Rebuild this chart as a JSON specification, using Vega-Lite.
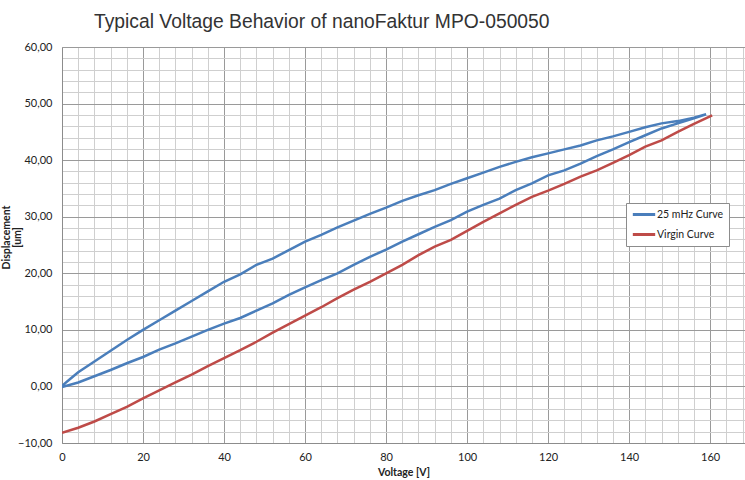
{
  "$schema": "https://vega.github.io/schema/vega-lite/v6.json",
  "width": 683,
  "height": 396,
  "autosize": {"type": "none"},
  "padding": {"left": 62, "top": 47, "right": 0, "bottom": 37},
  "background": "white",
  "config": {"view": {"stroke": null}},
  "title": {
    "text": "Typical Voltage Behavior of nanoFaktur MPO-050050",
    "anchor": "start",
    "frame": "group",
    "baseline": "alphabetic",
    "offset": 20,
    "dx": 32,
    "dy": 26,
    "font": "Liberation Sans",
    "fontSize": 19.3,
    "fontWeight": "normal",
    "color": "#333333"
  },
  "data": {
    "values": [
      {"series": "25 mHz Curve", "order": 0, "voltage": 0, "displacement": -0.1},
      {"series": "25 mHz Curve", "order": 1, "voltage": 4, "displacement": 0.7},
      {"series": "25 mHz Curve", "order": 2, "voltage": 8, "displacement": 1.8},
      {"series": "25 mHz Curve", "order": 3, "voltage": 12, "displacement": 2.9},
      {"series": "25 mHz Curve", "order": 4, "voltage": 16, "displacement": 4.1},
      {"series": "25 mHz Curve", "order": 5, "voltage": 20, "displacement": 5.2},
      {"series": "25 mHz Curve", "order": 6, "voltage": 24, "displacement": 6.5},
      {"series": "25 mHz Curve", "order": 7, "voltage": 28, "displacement": 7.6},
      {"series": "25 mHz Curve", "order": 8, "voltage": 32, "displacement": 8.8},
      {"series": "25 mHz Curve", "order": 9, "voltage": 36, "displacement": 10.0},
      {"series": "25 mHz Curve", "order": 10, "voltage": 40, "displacement": 11.1},
      {"series": "25 mHz Curve", "order": 11, "voltage": 44, "displacement": 12.1},
      {"series": "25 mHz Curve", "order": 12, "voltage": 48, "displacement": 13.4},
      {"series": "25 mHz Curve", "order": 13, "voltage": 52, "displacement": 14.7},
      {"series": "25 mHz Curve", "order": 14, "voltage": 56, "displacement": 16.2},
      {"series": "25 mHz Curve", "order": 15, "voltage": 60, "displacement": 17.5},
      {"series": "25 mHz Curve", "order": 16, "voltage": 64, "displacement": 18.8},
      {"series": "25 mHz Curve", "order": 17, "voltage": 68, "displacement": 20.0},
      {"series": "25 mHz Curve", "order": 18, "voltage": 72, "displacement": 21.5},
      {"series": "25 mHz Curve", "order": 19, "voltage": 76, "displacement": 22.9},
      {"series": "25 mHz Curve", "order": 20, "voltage": 80, "displacement": 24.2},
      {"series": "25 mHz Curve", "order": 21, "voltage": 84, "displacement": 25.6},
      {"series": "25 mHz Curve", "order": 22, "voltage": 88, "displacement": 26.9},
      {"series": "25 mHz Curve", "order": 23, "voltage": 92, "displacement": 28.2},
      {"series": "25 mHz Curve", "order": 24, "voltage": 96, "displacement": 29.4},
      {"series": "25 mHz Curve", "order": 25, "voltage": 100, "displacement": 30.9},
      {"series": "25 mHz Curve", "order": 26, "voltage": 104, "displacement": 32.1},
      {"series": "25 mHz Curve", "order": 27, "voltage": 108, "displacement": 33.2},
      {"series": "25 mHz Curve", "order": 28, "voltage": 112, "displacement": 34.7},
      {"series": "25 mHz Curve", "order": 29, "voltage": 116, "displacement": 35.9},
      {"series": "25 mHz Curve", "order": 30, "voltage": 120, "displacement": 37.3},
      {"series": "25 mHz Curve", "order": 31, "voltage": 124, "displacement": 38.2},
      {"series": "25 mHz Curve", "order": 32, "voltage": 128, "displacement": 39.4},
      {"series": "25 mHz Curve", "order": 33, "voltage": 132, "displacement": 40.7},
      {"series": "25 mHz Curve", "order": 34, "voltage": 136, "displacement": 41.9},
      {"series": "25 mHz Curve", "order": 35, "voltage": 140, "displacement": 43.2},
      {"series": "25 mHz Curve", "order": 36, "voltage": 144, "displacement": 44.4},
      {"series": "25 mHz Curve", "order": 37, "voltage": 148, "displacement": 45.6},
      {"series": "25 mHz Curve", "order": 38, "voltage": 152, "displacement": 46.5},
      {"series": "25 mHz Curve", "order": 39, "voltage": 156, "displacement": 47.4},
      {"series": "25 mHz Curve", "order": 40, "voltage": 159, "displacement": 48.1},
      {"series": "25 mHz Curve", "order": 41, "voltage": 156, "displacement": 47.5},
      {"series": "25 mHz Curve", "order": 42, "voltage": 152, "displacement": 46.9},
      {"series": "25 mHz Curve", "order": 43, "voltage": 148, "displacement": 46.5},
      {"series": "25 mHz Curve", "order": 44, "voltage": 144, "displacement": 45.8},
      {"series": "25 mHz Curve", "order": 45, "voltage": 140, "displacement": 45.0},
      {"series": "25 mHz Curve", "order": 46, "voltage": 136, "displacement": 44.2},
      {"series": "25 mHz Curve", "order": 47, "voltage": 132, "displacement": 43.5},
      {"series": "25 mHz Curve", "order": 48, "voltage": 128, "displacement": 42.6},
      {"series": "25 mHz Curve", "order": 49, "voltage": 124, "displacement": 41.9},
      {"series": "25 mHz Curve", "order": 50, "voltage": 120, "displacement": 41.2},
      {"series": "25 mHz Curve", "order": 51, "voltage": 116, "displacement": 40.5},
      {"series": "25 mHz Curve", "order": 52, "voltage": 112, "displacement": 39.7},
      {"series": "25 mHz Curve", "order": 53, "voltage": 108, "displacement": 38.8},
      {"series": "25 mHz Curve", "order": 54, "voltage": 104, "displacement": 37.8},
      {"series": "25 mHz Curve", "order": 55, "voltage": 100, "displacement": 36.8},
      {"series": "25 mHz Curve", "order": 56, "voltage": 96, "displacement": 35.8},
      {"series": "25 mHz Curve", "order": 57, "voltage": 92, "displacement": 34.7},
      {"series": "25 mHz Curve", "order": 58, "voltage": 88, "displacement": 33.8},
      {"series": "25 mHz Curve", "order": 59, "voltage": 84, "displacement": 32.8},
      {"series": "25 mHz Curve", "order": 60, "voltage": 80, "displacement": 31.6},
      {"series": "25 mHz Curve", "order": 61, "voltage": 76, "displacement": 30.5},
      {"series": "25 mHz Curve", "order": 62, "voltage": 72, "displacement": 29.3},
      {"series": "25 mHz Curve", "order": 63, "voltage": 68, "displacement": 28.1},
      {"series": "25 mHz Curve", "order": 64, "voltage": 64, "displacement": 26.8},
      {"series": "25 mHz Curve", "order": 65, "voltage": 60, "displacement": 25.6},
      {"series": "25 mHz Curve", "order": 66, "voltage": 56, "displacement": 24.1},
      {"series": "25 mHz Curve", "order": 67, "voltage": 52, "displacement": 22.6},
      {"series": "25 mHz Curve", "order": 68, "voltage": 48, "displacement": 21.5},
      {"series": "25 mHz Curve", "order": 69, "voltage": 44, "displacement": 19.8},
      {"series": "25 mHz Curve", "order": 70, "voltage": 40, "displacement": 18.5},
      {"series": "25 mHz Curve", "order": 71, "voltage": 36, "displacement": 16.8},
      {"series": "25 mHz Curve", "order": 72, "voltage": 32, "displacement": 15.1},
      {"series": "25 mHz Curve", "order": 73, "voltage": 28, "displacement": 13.4},
      {"series": "25 mHz Curve", "order": 74, "voltage": 24, "displacement": 11.7},
      {"series": "25 mHz Curve", "order": 75, "voltage": 20, "displacement": 10.0},
      {"series": "25 mHz Curve", "order": 76, "voltage": 16, "displacement": 8.2},
      {"series": "25 mHz Curve", "order": 77, "voltage": 12, "displacement": 6.3},
      {"series": "25 mHz Curve", "order": 78, "voltage": 8, "displacement": 4.4},
      {"series": "25 mHz Curve", "order": 79, "voltage": 4, "displacement": 2.5},
      {"series": "25 mHz Curve", "order": 80, "voltage": 2, "displacement": 1.3},
      {"series": "25 mHz Curve", "order": 81, "voltage": 0, "displacement": 0.1},
      {"series": "Virgin Curve", "order": 0, "voltage": 0, "displacement": -8.2},
      {"series": "Virgin Curve", "order": 1, "voltage": 4, "displacement": -7.3},
      {"series": "Virgin Curve", "order": 2, "voltage": 8, "displacement": -6.2},
      {"series": "Virgin Curve", "order": 3, "voltage": 12, "displacement": -4.9},
      {"series": "Virgin Curve", "order": 4, "voltage": 16, "displacement": -3.6},
      {"series": "Virgin Curve", "order": 5, "voltage": 20, "displacement": -2.1},
      {"series": "Virgin Curve", "order": 6, "voltage": 24, "displacement": -0.7},
      {"series": "Virgin Curve", "order": 7, "voltage": 28, "displacement": 0.7},
      {"series": "Virgin Curve", "order": 8, "voltage": 32, "displacement": 2.1},
      {"series": "Virgin Curve", "order": 9, "voltage": 36, "displacement": 3.6},
      {"series": "Virgin Curve", "order": 10, "voltage": 40, "displacement": 5.0},
      {"series": "Virgin Curve", "order": 11, "voltage": 44, "displacement": 6.4},
      {"series": "Virgin Curve", "order": 12, "voltage": 48, "displacement": 7.9},
      {"series": "Virgin Curve", "order": 13, "voltage": 52, "displacement": 9.5},
      {"series": "Virgin Curve", "order": 14, "voltage": 56, "displacement": 11.0},
      {"series": "Virgin Curve", "order": 15, "voltage": 60, "displacement": 12.5},
      {"series": "Virgin Curve", "order": 16, "voltage": 64, "displacement": 14.0},
      {"series": "Virgin Curve", "order": 17, "voltage": 68, "displacement": 15.6},
      {"series": "Virgin Curve", "order": 18, "voltage": 72, "displacement": 17.1},
      {"series": "Virgin Curve", "order": 19, "voltage": 76, "displacement": 18.5},
      {"series": "Virgin Curve", "order": 20, "voltage": 80, "displacement": 20.0},
      {"series": "Virgin Curve", "order": 21, "voltage": 84, "displacement": 21.5},
      {"series": "Virgin Curve", "order": 22, "voltage": 88, "displacement": 23.2},
      {"series": "Virgin Curve", "order": 23, "voltage": 92, "displacement": 24.7},
      {"series": "Virgin Curve", "order": 24, "voltage": 96, "displacement": 25.9},
      {"series": "Virgin Curve", "order": 25, "voltage": 100, "displacement": 27.5},
      {"series": "Virgin Curve", "order": 26, "voltage": 104, "displacement": 29.1},
      {"series": "Virgin Curve", "order": 27, "voltage": 108, "displacement": 30.6},
      {"series": "Virgin Curve", "order": 28, "voltage": 112, "displacement": 32.1},
      {"series": "Virgin Curve", "order": 29, "voltage": 116, "displacement": 33.5},
      {"series": "Virgin Curve", "order": 30, "voltage": 120, "displacement": 34.6},
      {"series": "Virgin Curve", "order": 31, "voltage": 124, "displacement": 35.8},
      {"series": "Virgin Curve", "order": 32, "voltage": 128, "displacement": 37.1},
      {"series": "Virgin Curve", "order": 33, "voltage": 132, "displacement": 38.2},
      {"series": "Virgin Curve", "order": 34, "voltage": 136, "displacement": 39.5},
      {"series": "Virgin Curve", "order": 35, "voltage": 140, "displacement": 40.9},
      {"series": "Virgin Curve", "order": 36, "voltage": 144, "displacement": 42.4},
      {"series": "Virgin Curve", "order": 37, "voltage": 148, "displacement": 43.5},
      {"series": "Virgin Curve", "order": 38, "voltage": 152, "displacement": 45.0},
      {"series": "Virgin Curve", "order": 39, "voltage": 156, "displacement": 46.4},
      {"series": "Virgin Curve", "order": 40, "voltage": 160.5, "displacement": 47.9}
    ]
  },
  "mark": {"type": "line", "strokeWidth": 2.5, "clip": true},
  "encoding": {
    "x": {
      "field": "voltage",
      "type": "quantitative",
      "scale": {"domain": [0, 168.6], "nice": false, "zero": false},
      "axis": {
        "title": "Voltage [V]",
        "values": [0,4,8,12,16,20,24,28,32,36,40,44,48,52,56,60,64,68,72,76,80,84,88,92,96,100,104,108,112,116,120,124,128,132,136,140,144,148,152,156,160,164,168],
        "labelExpr": "datum.value % 20 === 0 ? datum.label : ''",
        "format": "d",
        "ticks": false,
        "labelPadding": 8,
        "labelFont": "Lato",
        "labelFontSize": 11,
        "labelColor": "#222222",
        "labelFlush": false,
        "labelOverlap": false,
        "domainColor": "#8c8c8c",
        "domainWidth": 1,
        "grid": true,
        "gridColor": {"condition": {"test": "datum.value % 20 === 0", "value": "#9a9a9a"}, "value": "#cfcfcf"},
        "gridWidth": 1,
        "titleFont": "Lato",
        "titleFontSize": 10.5,
        "titleFontWeight": "bold",
        "titleColor": "#222222",
        "titlePadding": 5
      }
    },
    "y": {
      "field": "displacement",
      "type": "quantitative",
      "scale": {"domain": [-10, 60], "nice": false, "zero": false},
      "axis": {
        "title": ["Displacement", "[um]"],
        "values": [-10,-8,-6,-4,-2,0,2,4,6,8,10,12,14,16,18,20,22,24,26,28,30,32,34,36,38,40,42,44,46,48,50,52,54,56,58,60],
        "labelExpr": "datum.value % 10 === 0 ? replace(format(datum.value, '.2f'), '.', ',') : ''",
        "ticks": false,
        "labelPadding": 10,
        "labelFont": "Lato",
        "labelFontSize": 11,
        "labelColor": "#222222",
        "labelOverlap": false,
        "labelFlush": false,
        "domainColor": "#8c8c8c",
        "grid": true,
        "gridColor": {"condition": {"test": "datum.value % 10 === 0", "value": "#9a9a9a"}, "value": "#cfcfcf"},
        "gridWidth": 1,
        "titleFont": "Lato",
        "titleFontSize": 10.5,
        "titleFontWeight": "bold",
        "titleColor": "#222222",
        "titleX": -56,
        "titleY": 190,
        "titleAngle": -90,
        "titleAlign": "center",
        "titleBaseline": "middle",
        "titleLineHeight": 11
      }
    },
    "color": {
      "field": "series",
      "type": "nominal",
      "scale": {"domain": ["25 mHz Curve", "Virgin Curve"], "range": ["#4A7EBB", "#BE4B48"]},
      "legend": {
        "title": null,
        "orient": "none",
        "legendX": 564,
        "legendY": 156,
        "direction": "vertical",
        "symbolType": "stroke",
        "symbolSize": 500,
        "symbolStrokeWidth": 3,
        "clipHeight": 13,
        "labelFont": "Lato",
        "labelFontSize": 10.5,
        "labelColor": "#222222",
        "labelOffset": 0,
        "rowPadding": 7,
        "padding": 5,
        "strokeColor": "#8c8c8c",
        "fillColor": "white",
        "cornerRadius": 0
      }
    },
    "order": {"field": "order", "type": "quantitative"}
  }
}
